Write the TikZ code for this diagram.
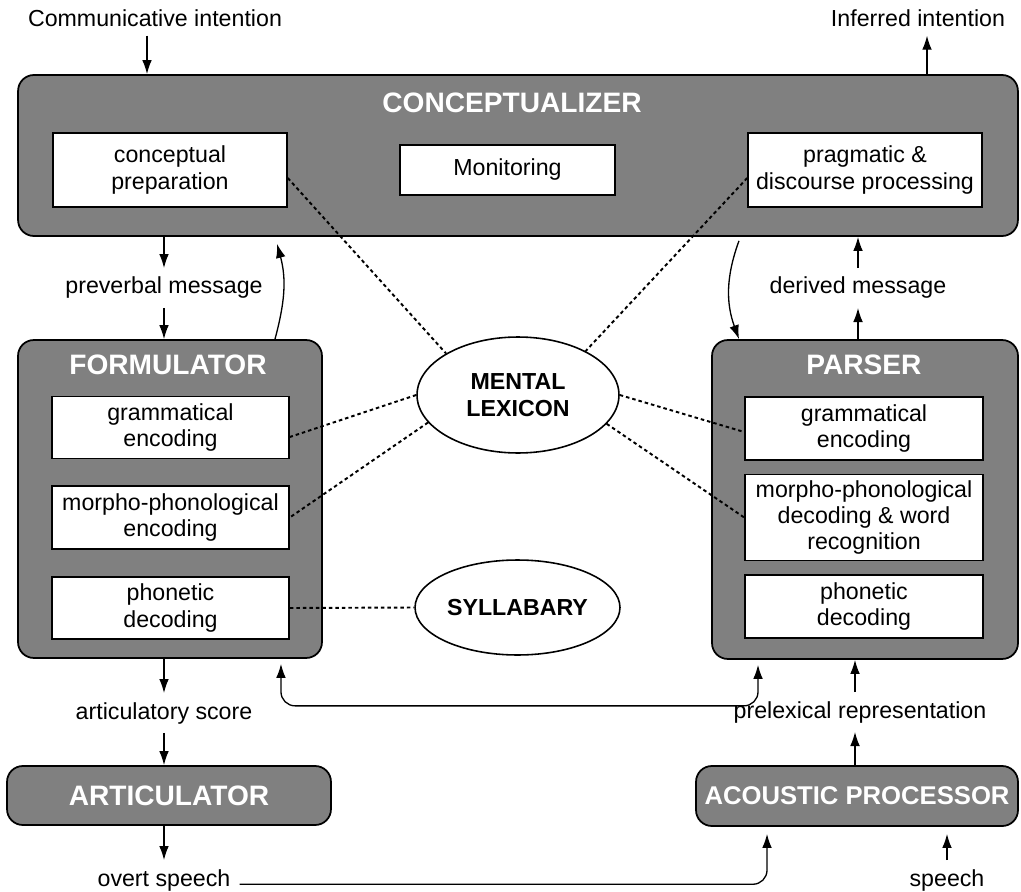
\documentclass[tikz,border=0pt]{standalone}
\usepackage{fontspec}
\setmainfont{Liberation Sans}
\usepackage{tikz}
\usetikzlibrary{arrows.meta,shapes.geometric}

\begin{document}
\begin{tikzpicture}[x=0.02cm,y=-0.02cm,
  module/.style={draw=black,line width=1pt,fill=black!50,rounded corners=9pt,inner sep=0pt},
  modtitle/.style={text=white,font=\fontsize{16}{18}\selectfont\bfseries},
  subbox/.style={draw=black,line width=0.9pt,fill=white,align=center,font=\fontsize{13.2}{15}\selectfont},
  store/.style={ellipse,draw=black,line width=0.9pt,fill=white,align=center,inner sep=0pt,font=\fontsize{13.2}{15}\selectfont\bfseries},
  lbl/.style={font=\fontsize{13.2}{15}\selectfont,inner sep=5pt},
  arr/.style={-{Latex[length=8pt,width=5.5pt]},line width=0.75pt},
  arrboth/.style={{Latex[length=8pt,width=5.5pt]}-{Latex[length=8pt,width=5.5pt]},line width=0.75pt},
  lex/.style={line width=1.1pt,dash pattern=on 2pt off 1.7pt}]

\useasboundingbox (0,0) rectangle (1021,892);

% Conceptualizer
\node[module,minimum width=20cm,minimum height=3.22cm] (concept) at (518,155.5) {};
\node[modtitle] (concepttitle) at (512,103) {CONCEPTUALIZER};
\node[subbox,minimum width=4.68cm,minimum height=1.48cm] (prep) at (170,170) {conceptual\\preparation};
\node[subbox,minimum width=4.3cm,minimum height=1cm] (monitor) at (507.5,170) {Monitoring};
\node[subbox,minimum width=4.68cm,minimum height=1.48cm] (prag) at (865,170) {pragmatic \&\\discourse processing};

% Formulator
\node[module,minimum width=6.08cm,minimum height=6.36cm] (form) at (170,499) {};
\node[modtitle] (formtitle) at (168,365) {FORMULATOR};
\node[subbox,minimum width=4.74cm,minimum height=1.24cm] (fgram) at (170.5,427.5) {grammatical\\encoding};
\node[subbox,minimum width=4.74cm,minimum height=1.26cm] (fmorph) at (170.5,517.5) {morpho-phonological\\encoding};
\node[subbox,minimum width=4.74cm,minimum height=1.24cm] (fphon) at (170.5,608) {phonetic\\decoding};

% Parser
\node[module,minimum width=6.12cm,minimum height=6.38cm] (parser) at (865,499.5) {};
\node[modtitle] (parsertitle) at (864,365) {PARSER};
\node[subbox,minimum width=4.76cm,minimum height=1.26cm] (pgram) at (864,428.5) {grammatical\\encoding};
\node[subbox,minimum width=4.76cm,minimum height=1.7cm] (pmorph) at (864,517.5) {morpho-phonological\\decoding \& word\\recognition};
\node[subbox,minimum width=4.76cm,minimum height=1.26cm] (pphon) at (864,606.5) {phonetic\\decoding};

% lexicon and syllabary
\node[store,minimum width=4.04cm,minimum height=2.32cm] (lexicon) at (518,395) {MENTAL\\LEXICON};
\node[store,minimum width=4.1cm,minimum height=1.9cm] (syllabary) at (517.5,607.5) {SYLLABARY};

% Articulator, acoustic processor
\node[module,modtitle,minimum width=6.48cm,minimum height=1.18cm] (artic) at (169,795.5) {ARTICULATOR};
\node[module,modtitle,font=\fontsize{14.6}{16}\selectfont\bfseries,minimum width=6.44cm,minimum height=1.2cm] (acoustic) at (857,796) {ACOUSTIC PROCESSOR};

% labels
\node[lbl] (commint) at (155,18) {Communicative intention};
\node[lbl] (infint) at (918,18) {Inferred intention};
\node[lbl] (preverbal) at (164,288) {preverbal message};
\node[lbl] (derived) at (858,288) {derived message};
\node[lbl] (artscore) at (164,713) {articulatory score};
\node[lbl] (prelex) at (860,712) {prelexical representation};
\node[lbl] (overt) at (164,880) {overt speech};
\node[lbl] (speech) at (947,880) {speech};

% top in/out
\draw[arr] ([xshift=-0.16cm]commint.south) -- ([xshift=-0.16cm]commint.south |- concept.north);
\draw[arr] ([xshift=0.18cm]infint.south |- concept.north) -- ([xshift=0.18cm]infint.south);

% speaking side
\draw[arr] (preverbal.north |- concept.south) -- (preverbal.north);
\draw[arr] (preverbal.south) -- (preverbal.south |- form.north);
\draw[arr] ([xshift=2.1cm]form.north) to[out=75,in=-75] ([xshift=-4.82cm,yshift=-0.14cm]concept.south);
\draw[arr] (artscore.north |- form.south) -- (artscore.north);
\draw[arr] (artscore.south) -- (artscore.south |- artic.north);
\draw[arr] (overt.north |- artic.south) -- (overt.north);

% listening side
\draw[arr] (derived.south |- parser.north) -- (derived.south);
\draw[arr] (derived.north) -- (derived.north |- concept.south);
\draw[arr] ([xshift=4.42cm,yshift=-0.08cm]concept.south) to[out=-110,in=110] ([xshift=-2.52cm]parser.north);
\draw[arr] ([xshift=-0.1cm]prelex.north) -- ([xshift=-0.1cm]prelex.north |- parser.south);
\draw[arr] ([xshift=-0.1cm]prelex.south |- acoustic.north) -- ([xshift=-0.1cm]prelex.south);
\draw[arr,shorten >=4pt] (speech.north) -- (speech.north |- acoustic.south);

% loops
\draw[arrboth,rounded corners=8pt] ([xshift=2.22cm,yshift=-0.1cm]form.south) -- ++(0,42) -| ([xshift=-2.14cm,yshift=-0.1cm]parser.south);
\draw[arr,rounded corners=8pt] ([yshift=1pt]overt.base east) -- ([xshift=-1.8cm,yshift=1pt]acoustic.south |- overt.base east) -- ([xshift=-1.8cm,yshift=-0.14cm]acoustic.south);

% lexical access
\draw[lex] ([yshift=-0.16cm]prep.east) -- (lexicon.150);
\draw[lex] ([yshift=-0.16cm]prag.west) -- (lexicon.33);
\draw[lex] (lexicon.180) -- ([yshift=-0.19cm]fgram.east);
\draw[lex] (lexicon.197) -- (fmorph.east);
\draw[lex] (lexicon.0) -- ([yshift=-0.07cm]pgram.west);
\draw[lex] (lexicon.-18) -- (pmorph.west);
\draw[lex] (fphon.east) -- (syllabary.west);
\end{tikzpicture}
\end{document}
